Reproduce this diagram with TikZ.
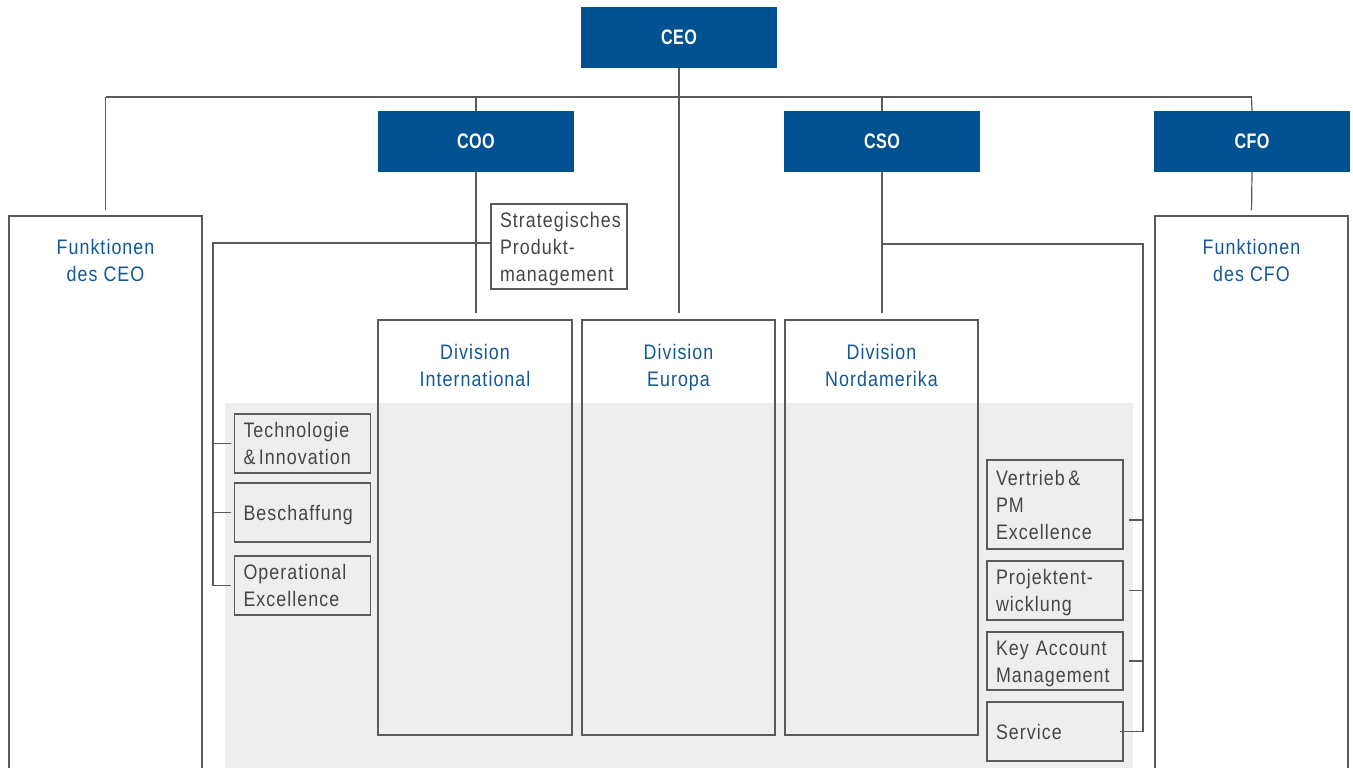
\documentclass[tikz,border=0pt]{standalone}
\usepackage{fontspec}
\setmainfont[FakeStretch=0.85,LetterSpace=5]{Liberation Sans}
\newfontfamily\hdfont[FakeStretch=0.77,LetterSpace=2]{Liberation Sans}
\usetikzlibrary{calc}
\definecolor{hdblue}{RGB}{0,81,143}
\definecolor{txtblue}{RGB}{20,88,150}
\definecolor{txtgray}{RGB}{70,70,70}
\definecolor{linegray}{RGB}{90,90,90}
\definecolor{bggray}{RGB}{238,238,238}
\tikzset{
  x=1pt, y=-1pt,
  head/.style={fill=hdblue, text=white, font=\hdfont\bfseries\fontsize{21}{25}\selectfont,
    minimum width=196pt, minimum height=61pt, inner sep=0pt},
  colbox/.style={draw=linegray, line width=1.2pt, inner sep=0pt},
  coltext/.style={text=txtblue, align=center, font=\fontsize{21}{27}\selectfont, inner sep=0pt, anchor=north},
  unitbox/.style={draw=linegray, line width=1.2pt, inner xsep=9pt, inner ysep=0pt,
    text=txtgray, align=left, text width=118pt, text height=15pt, text depth=#1,
    font=\fontsize{21}{27}\selectfont},
  unitbox/.default=0pt,
  conn/.style={draw=linegray, line width=1.2pt},
}
\begin{document}
\begin{tikzpicture}
\clip (0,0) rectangle (1353,768);
\fill[white] (0,0) rectangle (1353,768);
% grey background
\fill[bggray] (225,403) rectangle (1133,775);

% head boxes
\node[head] (ceo) at (679,37.5) {CEO};
\node[head] (coo) at (476,141.5) {COO};
\node[head] (cso) at (882,141.5) {CSO};
\node[head] (cfo) at (1252,141.5) {CFO};

% column boxes
\node[colbox, minimum width=193pt, minimum height=564pt] (fceo) at (105.5,498) {};
\node[colbox, minimum width=193pt, minimum height=564pt] (fcfo) at (1251.5,498) {};
\node[colbox, minimum width=194pt, minimum height=415pt] (divint) at (475,527.5) {};
\node[colbox, minimum width=193pt, minimum height=415pt] (diveur) at (678.5,527.5) {};
\node[colbox, minimum width=193pt, minimum height=415pt] (divna) at (881.5,527.5) {};

\node[coltext] (tfceo) at (105.5,239.5) {Funktionen\\des CEO};
\node[coltext] (tfcfo) at (1251.5,239.5) {Funktionen\\des CFO};
\node[coltext] (tdivint) at (475,344.5) {Division\\International};
\node[coltext] (tdiveur) at (678.5,344.5) {Division\\Europa};
\node[coltext] (tdivna) at (881.5,344.5) {Division\\Nordamerika};

% unit boxes
\node[unitbox=54pt, minimum height=85pt] (sp) at (559,246.5) {Strategisches\\Produkt-\\management};
\node[unitbox=27pt, minimum height=59pt] (tech) at (302.5,443.5) {Technologie\\\&\,Innovation};
\node[unitbox, minimum height=59pt] (besch) at (302.5,512.5) {Beschaffung};
\node[unitbox=27pt, minimum height=59pt] (opex) at (302.5,585.5) {Operational\\Excellence};
\node[unitbox=54pt, minimum height=89pt] (vert) at (1055,504.5) {Vertrieb\,\&\\PM\\Excellence};
\node[unitbox=27pt, minimum height=59pt] (proj) at (1055,590.5) {Projektent-\\wicklung};
\node[unitbox=27pt, minimum height=58pt] (kam) at (1055,661) {Key~Account\\Management};
\node[unitbox, minimum height=59pt] (serv) at (1055,731.5) {Service};

% top bus
\coordinate (busL) at (105.5,97);
\coordinate (busR) at (1251.5,97);
\draw[conn] (busL) -- (busR);
\draw[conn, shorten >=5pt] (busL) -- (fceo.north);
\draw[conn] (busR) -- (cfo.north);
\draw[conn] (coo.north) -- (coo.north |- busL);
\draw[conn] (cso.north) -- (cso.north |- busL);
\draw[conn, shorten >=6pt] (ceo.south) -- (ceo.south |- diveur.north);
\draw[conn, shorten >=5pt] (cfo.south) -- (fcfo.north);
\draw[conn, shorten >=6pt] (coo.south) -- (coo.south |- divint.north);
\draw[conn, shorten >=6pt] (cso.south) -- (cso.south |- divna.north);

% COO staff line
\coordinate (lv) at (213,243);
\draw[conn, shorten >=3pt] (sp.west |- lv) -- (lv) -- (lv |- opex.west) -- (opex.west);
\draw[conn, shorten >=3pt] (lv |- tech.west) -- (tech.west);
\draw[conn, shorten >=3pt] (lv |- besch.west) -- (besch.west);

% CSO staff line
\coordinate (cb) at (cso.south |- 0,244);
\coordinate (rv) at (1143,244);
\coordinate (servtip) at ($(serv.east)+(-4,0)$);
\draw[conn] (cb) -- (rv) -- (rv |- servtip) -- (servtip);
\coordinate (verttip) at ($(vert.east)+(0,15.5)$);
\draw[conn, shorten >=5pt] (rv |- verttip) -- (verttip);
\draw[conn, shorten >=5pt] (rv |- proj.east) -- (proj.east);
\draw[conn, shorten >=5pt] (rv |- kam.east) -- (kam.east);
\end{tikzpicture}
\end{document}
